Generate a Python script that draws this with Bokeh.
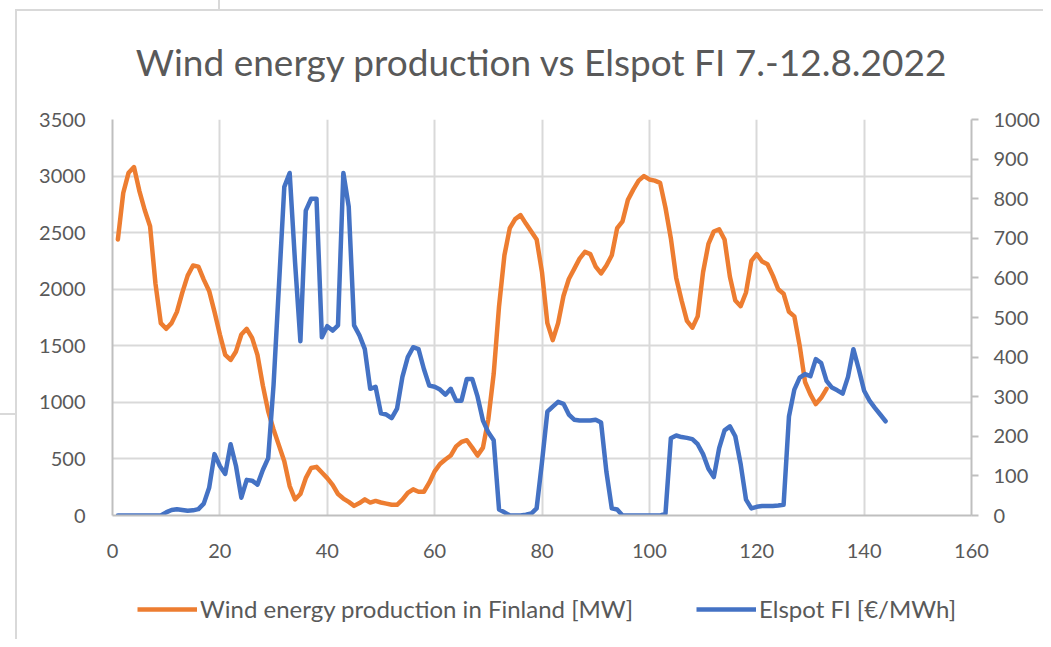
from bokeh.plotting import figure
from bokeh.layouts import column
from bokeh.models import (Range1d, LinearAxis, Legend, LegendItem, FixedTicker,
                          InlineStyleSheet)
from bokeh.embed import file_html
from bokeh.resources import INLINE

# ---------------- data ----------------
hours_wind = list(range(1, 134))
wind_mw = [
    2440, 2850, 3030, 3080, 2870, 2700, 2556, 2050, 1700, 1650,
    1700, 1800, 1970, 2120, 2210, 2200, 2085, 1985, 1800, 1600,
    1420, 1375, 1450, 1600, 1650, 1570, 1420, 1150, 920, 760,
    620, 480, 260, 143, 190, 330, 420, 430, 380, 330,
    270, 190, 150, 120, 85, 110, 143, 114, 129, 115,
    105, 95, 94, 140, 200, 231, 210, 210, 290, 390,
    455, 495, 530, 611, 650, 665, 600, 530, 600, 850,
    1250, 1850, 2300, 2540, 2620, 2655, 2580, 2510, 2440, 2150,
    1700, 1550, 1700, 1940, 2090, 2180, 2270, 2330, 2310, 2200,
    2140, 2210, 2300, 2540, 2600, 2790, 2880, 2960, 3000, 2970,
    2960, 2940, 2720, 2450, 2100, 1900, 1720, 1660, 1760, 2150,
    2400, 2510, 2530, 2440, 2110, 1900, 1850, 1971, 2250, 2310,
    2245, 2220, 2120, 2000, 1960, 1800, 1760, 1500, 1180, 1070,
    985, 1040, 1120,
]
hours_price = list(range(1, 145))
elspot = [
    0, 0, 0, 0, 0, 0, 0, 0, 0, 8,
    14, 16, 14, 12, 13, 16, 30, 70, 155, 125,
    105, 180, 125, 45, 90, 88, 78, 115, 145, 330,
    580, 830, 865, 640, 440, 770, 800, 800, 450, 478,
    467, 480, 865, 780, 480, 455, 420, 320, 325, 258,
    255, 246, 270, 350, 400, 425, 420, 370, 328, 325,
    318, 305, 320, 290, 290, 345, 345, 300, 240, 210,
    190, 15, 8, 0, 0, 0, 2, 5, 18, 135,
    262, 275, 287, 282, 255, 242, 240, 240, 240, 242,
    235, 110, 18, 15, 0, 0, 0, 0, 0, 0,
    0, 0, 5, 195, 202, 198, 196, 193, 180, 155,
    118, 97, 170, 215, 225, 200, 130, 40, 18, 22,
    24, 24, 24, 25, 27, 250, 318, 348, 357, 352,
    395, 385, 340, 323, 316, 308, 350, 420, 370, 315,
    290, 272, 255, 238,
]
x_ticks = [0, 20, 40, 60, 80, 100, 120, 140, 160]
left_ticks = [0, 500, 1000, 1500, 2000, 2500, 3000, 3500]
right_ticks = [0, 100, 200, 300, 400, 500, 600, 700, 800, 900, 1000]

title_text = "Wind energy production vs Elspot FI 7.-12.8.2022"
wind_label = "Wind energy production in Finland [MW]"
price_label = "Elspot FI [\u20ac/MWh]"

# ---------------- style ----------------
FONT = "Lato"
TXT = "#595959"
GRID = "#d9d9d9"
AXIS = "#bfbfbf"
ORANGE = "#ed7d31"
BLUE = "#4472c4"
LW = 4.5

p = figure(width=1043, height=560, output_backend="svg", toolbar_location=None,
           x_range=Range1d(0, 160), y_range=Range1d(0, 3500),
           min_border_left=112, min_border_right=72,
           min_border_top=119, min_border_bottom=42)
p.extra_y_ranges = {"price": Range1d(0, 1000)}
p.outline_line_color = None
p.background_fill_color = "white"
p.border_fill_color = None

# title
p.title.text = title_text
p.title.align = "center"
p.title.text_font = FONT
p.title.text_font_size = "37px"
p.title.text_font_style = "normal"
p.title.text_color = TXT
p.title.standoff = 72

# axes
p.xaxis.ticker = FixedTicker(ticks=x_ticks)
p.yaxis.ticker = FixedTicker(ticks=left_ticks)
for ax in (p.xaxis[0], p.yaxis[0]):
    ax.axis_line_color = AXIS
    ax.axis_line_width = 2
    ax.major_tick_line_color = None
    ax.minor_tick_line_color = None
    ax.major_label_text_font = FONT
    ax.major_label_text_font_size = "20px"
    ax.major_label_text_color = TXT
p.xaxis.major_label_standoff = 22
p.yaxis.major_label_standoff = 21

raxis = LinearAxis(y_range_name="price", ticker=FixedTicker(ticks=right_ticks))
raxis.axis_line_color = AXIS
raxis.axis_line_width = 2
raxis.major_tick_line_color = AXIS
raxis.major_tick_line_width = 2
raxis.major_tick_out = 7
raxis.major_tick_in = 0
raxis.minor_tick_line_color = None
raxis.major_label_text_font = FONT
raxis.major_label_text_font_size = "20px"
raxis.major_label_text_color = TXT
raxis.major_label_standoff = 15
p.add_layout(raxis, "right")

p.xgrid.ticker = FixedTicker(ticks=x_ticks)
p.ygrid.ticker = FixedTicker(ticks=left_ticks)
p.grid.grid_line_color = GRID
p.grid.grid_line_width = 2

# lines
p.line(hours_wind, wind_mw, line_color=ORANGE, line_width=LW,
       line_join="round", line_cap="round")
p.line(hours_price, elspot, line_color=BLUE, line_width=LW,
       line_join="round", line_cap="round", y_range_name="price")

# legend strip: a second figure whose view range shows none of the data,
# used only to draw the legend keys beneath the chart
pl = figure(width=1043, height=79, output_backend="svg", toolbar_location=None,
            x_range=Range1d(-20, -10), y_range=Range1d(-20, -10),
            min_border=0, x_axis_location=None, y_axis_location=None)
pl.outline_line_color = None
pl.grid.visible = False
pl.border_fill_color = None
pl.background_fill_color = None
k_wind = pl.line(hours_wind, wind_mw, line_color=ORANGE, line_width=LW)
k_price = pl.line(hours_price, elspot, line_color=BLUE, line_width=LW)
legend = Legend(items=[LegendItem(label=wind_label, renderers=[k_wind]),
                       LegendItem(label=price_label, renderers=[k_price])],
                orientation="horizontal", location=(25, 16),
                glyph_width=60, glyph_height=20, label_standoff=3, spacing=63,
                padding=0, margin=0, border_line_color=None,
                background_fill_alpha=0,
                label_text_font=FONT, label_text_font_size="24px",
                label_text_color=TXT)
pl.add_layout(legend, "center")

# light grey worksheet cell borders visible around the chart in the screenshot
sheet = InlineStyleSheet(css=""":host { background:
  linear-gradient(#d9d9d9, #d9d9d9) 16px 9px / 1100px 2px no-repeat,
  linear-gradient(#d9d9d9, #d9d9d9) 15px 9px / 2px 700px no-repeat,
  linear-gradient(#d9d9d9, #d9d9d9) 218px 0px / 2px 10px no-repeat,
  linear-gradient(#d9d9d9, #d9d9d9) 0px 413px / 16px 2px no-repeat,
  white; }""")

layout = column(p, pl, spacing=0, stylesheets=[sheet])
open("out.html", "w").write(file_html(layout, INLINE))
